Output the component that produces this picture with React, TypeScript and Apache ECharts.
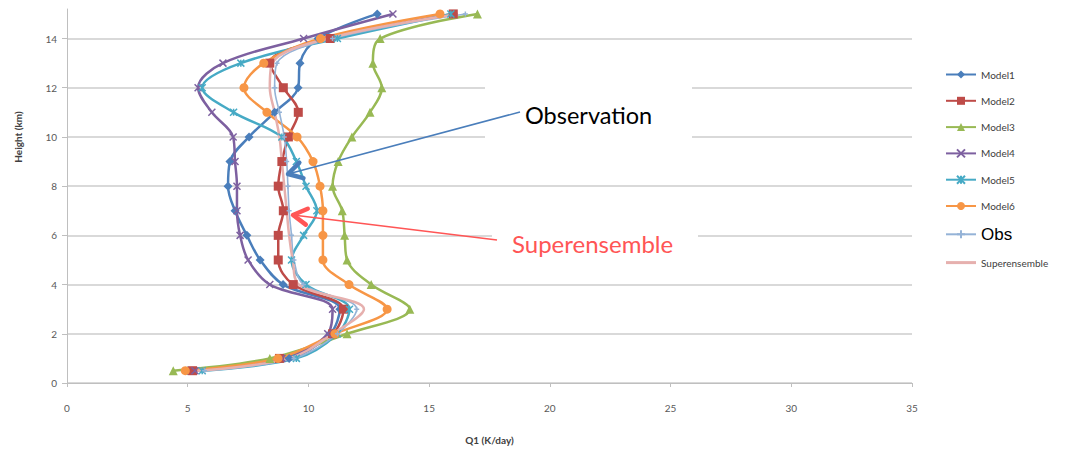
import React, { useEffect, useRef } from "react";
import * as echarts from "echarts";

const heights = [0.5, 1, 2, 3, 4, 5, 6, 7, 8, 9, 10, 11, 12, 13, 14, 15];
const model1 = [5.0, 9.2, 10.9, 11.3, 8.95, 8.0, 7.45, 6.96, 6.67, 6.75, 7.54, 8.6, 9.57, 9.65, 10.4, 12.85];
const model2 = [5.2, 8.8, 11.0, 11.45, 9.37, 8.75, 8.75, 8.96, 8.75, 8.9, 9.17, 9.58, 8.96, 8.4, 10.9, 16.0];
const model3 = [4.4, 8.4, 11.6, 14.2, 12.6, 11.6, 11.5, 11.4, 11.0, 11.23, 11.8, 12.55, 13.04, 12.67, 12.97, 17.0];
const model4 = [5.3, 8.9, 10.8, 11.0, 8.4, 7.5, 7.17, 7.04, 7.04, 6.96, 6.88, 6.0, 5.43, 6.46, 9.8, 13.5];
const model5 = [5.6, 9.5, 11.2, 11.7, 9.9, 9.3, 9.8, 10.35, 9.9, 9.5, 8.9, 6.9, 5.6, 7.2, 11.2, 15.9];
const model6 = [4.9, 8.74, 11.1, 13.26, 11.68, 10.6, 10.6, 10.6, 10.48, 10.19, 9.53, 8.28, 7.33, 8.15, 10.5, 15.45];
const obs = [5.7, 9.4, 11.2, 12.0, 9.8, 9.4, 9.3, 9.2, 9.15, 9.1, 9.0, 8.8, 8.6, 8.7, 11.0, 16.5];
const superens = [5.4, 9.2, 11.0, 12.3, 9.6, 9.35, 9.2, 9.1, 9.0, 8.9, 8.8, 8.6, 8.4, 8.5, 10.8, 16.2];

const xTicks = [0, 5, 10, 15, 20, 25, 30, 35];
const yTicks = [0, 2, 4, 6, 8, 10, 12, 14];

const seriesDefs = [
  { name: "Model1", values: model1, color: "#4a7ebb", symbol: "diamond", size: 9 },
  { name: "Model2", values: model2, color: "#be4b48", symbol: "rect", size: 9 },
  { name: "Model3", values: model3, color: "#98b954", symbol: "triangle", size: 9 },
  { name: "Model4", values: model4, color: "#7d60a0", symbol: "path://M0,0L10,10M10,0L0,10", size: 7 },
  { name: "Model5", values: model5, color: "#46aac5", symbol: "path://M0,0L10,10M10,0L0,10M5,0L5,10", size: 7 },
  { name: "Model6", values: model6, color: "#f79646", symbol: "circle", size: 9 },
  { name: "Obs", values: obs, color: "#95b3d7", symbol: "path://M5,0L5,10M0,5L10,5", size: 5 },
  { name: "Superensemble", values: superens, color: "#e6b0ae", symbol: "none", size: 0 },
];

function arrow(x1: number, y1: number, x2: number, y2: number, color: string) {
  const dx = x1 - x2;
  const dy = y1 - y2;
  const L = Math.hypot(dx, dy);
  const ux = dx / L;
  const uy = dy / L;
  const a = Math.PI / 6;
  const len = 16;
  const rot = (ang: number) => [
    x2 + len * (ux * Math.cos(ang) - uy * Math.sin(ang)),
    y2 + len * (ux * Math.sin(ang) + uy * Math.cos(ang)),
  ];
  return [
    { type: "line", z: 20, shape: { x1, y1, x2, y2 }, style: { stroke: color, lineWidth: 1.6 } },
    {
      type: "polyline",
      z: 20,
      shape: { points: [rot(a), [x2, y2], rot(-a)] },
      style: { stroke: color, lineWidth: 4.5, fill: null, lineCap: "round", lineJoin: "round" },
    },
  ];
}

export default function App() {
  const ref = useRef<HTMLDivElement>(null);
  useEffect(() => {
    const chart = echarts.init(ref.current!, null, { renderer: "svg" });
    const font = "Lato, 'Open Sans', sans-serif";
    const option: any = {
      animation: false,
      backgroundColor: "#ffffff",
      grid: { left: 67, right: 160, top: 9, bottom: 67, containLabel: false },
      xAxis: {
        type: "value",
        min: 0,
        max: 35,
        interval: 5,
        name: "Q1 (K/day)",
        nameLocation: "middle",
        nameGap: 52,
        nameTextStyle: { fontSize: 10, fontWeight: "bold", color: "#404040", fontFamily: font },
        axisLine: { show: true, lineStyle: { color: "#bfbfbf", width: 1 } },
        axisTick: { show: true, length: 4, lineStyle: { color: "#bfbfbf" } },
        axisLabel: {
          fontSize: 10,
          color: "#595959",
          margin: 20,
          fontFamily: font,
          formatter: (v: number) => (xTicks.includes(v) ? String(v) : ""),
        },
        splitLine: { show: false },
      },
      yAxis: {
        type: "value",
        min: 0,
        max: 15.2,
        interval: 2,
        axisLine: { show: true, lineStyle: { color: "#bfbfbf", width: 1 } },
        axisTick: { show: true, length: 5, lineStyle: { color: "#bfbfbf" } },
        axisLabel: {
          fontSize: 10,
          color: "#595959",
          margin: 10,
          fontFamily: font,
          showMaxLabel: false,
          formatter: (v: number) => (yTicks.includes(v) ? String(v) : ""),
        },
        splitLine: { show: true, showMaxLine: false, lineStyle: { color: "#d9d9d9", width: 2 } },
      },
      legend: {
        orient: "vertical",
        left: 940,
        top: 63,
        itemWidth: 30,
        itemHeight: 10,
        itemGap: 13.3,
        textStyle: { fontSize: 10, color: "#404040", fontFamily: font, lineHeight: 13 },
        data: seriesDefs.map((s) =>
          s.name === "Obs"
            ? { name: s.name, textStyle: { fontSize: 17, color: "#000", fontFamily: "'Liberation Sans', Arial, sans-serif", lineHeight: 13 } }
            : s.name === "Superensemble"
            ? { name: s.name, icon: "path://M0,0L30,0L30,3L0,3Z", itemStyle: { color: s.color } }
            : { name: s.name }
        ),
      },
      series: seriesDefs.map((s) => ({
        name: s.name,
        type: "line",
        smooth: 0.35,
        data: s.values.map((v, i) => [v, heights[i]]),
        symbol: s.symbol,
        symbolSize: s.size,
        showSymbol: s.symbol !== "none",
        lineStyle: { color: s.color, width: s.name === "Obs" ? 1.6 : 2.5 },
        itemStyle: { color: s.color, borderColor: s.color, borderWidth: s.symbol.startsWith("path") ? 1.5 : 0 },
        emphasis: { disabled: true },
      })),
      graphic: [
        {
          type: "text",
          x: 18,
          y: 137,
          rotation: Math.PI / 2,
          style: { text: "Height (km)", fontSize: 10, fontWeight: "bold", fill: "#404040", align: "center", verticalAlign: "middle", fontFamily: font },
        },
        { type: "rect", z: 1, shape: { x: 485, y: 84, width: 207, height: 56 }, style: { fill: "#ffffff" } },
        { type: "rect", z: 1, shape: { x: 492, y: 226, width: 206, height: 36 }, style: { fill: "#ffffff" } },
        ...arrow(520, 112, 288, 174, "#4a7ebb"),
        ...arrow(497, 240, 293, 215, "#ff5555"),
        {
          type: "text",
          z: 21,
          x: 525,
          y: 115,
          style: { text: "Observation", fontSize: 23.5, fill: "#000000", align: "left", verticalAlign: "middle", fontFamily: font },
        },
        {
          type: "text",
          z: 21,
          x: 512,
          y: 243,
          style: { text: "Superensemble", fontSize: 24, fill: "#ff5555", align: "left", verticalAlign: "middle", fontFamily: font },
        },
      ],
    };
    chart.setOption(option);
    return () => chart.dispose();
  }, []);
  return (
    <div
      ref={ref}
      style={{ position: "fixed", left: 0, top: 0, width: 1072, height: 450, background: "#fff" }}
    />
  );
}
